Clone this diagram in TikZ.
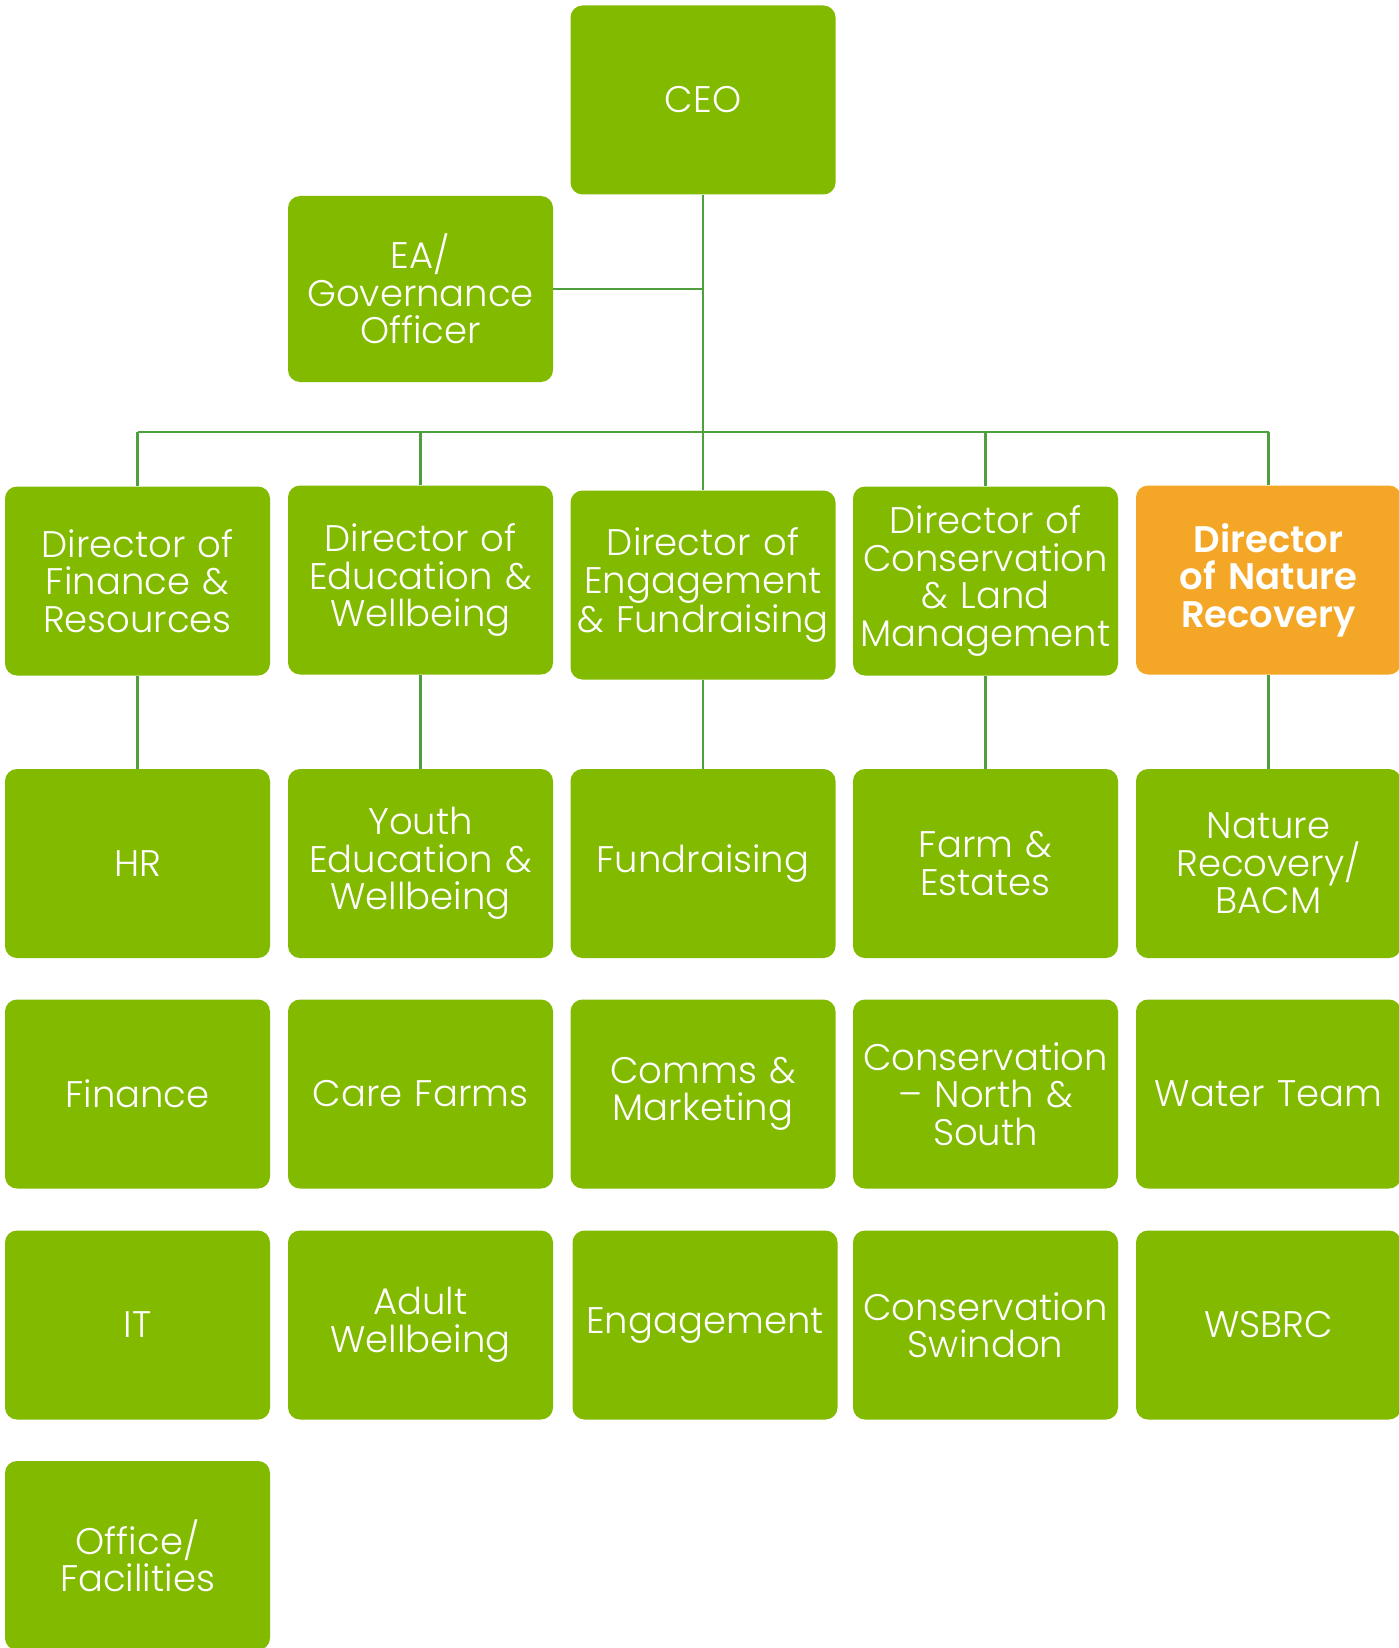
\documentclass[tikz,border=0pt]{standalone}
\usepackage{fontspec}
\setmainfont{Poppins}[UprightFont=* Light, BoldFont=* SemiBold]
\definecolor{leaf}{RGB}{130,186,0}
\definecolor{amber}{RGB}{244,167,39}
\definecolor{stem}{RGB}{78,159,61}
\tikzset{
    team node/.style={rectangle,rounded corners=12pt,fill=leaf,text=white,
        minimum width=265pt,minimum height=189pt,text width=260pt,align=center,
        inner sep=0pt,font=\fontsize{37}{37.5}\selectfont},
    lead node/.style={team node,fill=amber,font=\fontsize{37}{37.5}\selectfont\bfseries},
    link/.style={draw=stem,line width=2.5pt}
    }
\begin{document}
\begin{tikzpicture}[x=1pt,y=-1pt]
    \useasboundingbox[fill=white] (0,0) rectangle (1399,1648);
    % top
    \node(ceo)[team node] at (703,100){CEO};
    \node(ea)[team node, minimum height=186pt] at (420.5,289){EA/\\Governance\\Officer};
    % directors
    \node(dfin)[team node] at (137.5,581){Director of\\Finance \&\\Resources};
    \node(dedu)[team node] at (420.5,580){Director of\\Education \&\\Wellbeing};
    \node(deng)[team node] at (703,585){Director of\\Engagement\\\& Fundraising};
    \node(dcon)[team node] at (985.5,581){Director of\\Conservation\\\& Land\\Management};
    \node(dnat)[lead node] at (1268.5,580){Director\\of Nature\\Recovery};
    % teams
    \node(hr)[team node] at (137.5,863.5){HR};
    \node(youth)[team node] at (420.5,863.5){Youth\\Education \&\\Wellbeing};
    \node(fund)[team node] at (703,863.5){Fundraising};
    \node(farm)[team node] at (985.5,863.5){Farm \&\\Estates};
    \node(nrec)[team node] at (1268.5,863.5){Nature\\Recovery/\\BACM};
    \node(fin)[team node] at (137.5,1094){Finance};
    \node(care)[team node] at (420.5,1094){Care Farms};
    \node(comms)[team node] at (703,1094){Comms \&\\Marketing};
    \node(cns)[team node] at (985.5,1094){Conservation\\-- North \&\\South};
    \node(water)[team node] at (1268.5,1094){Water Team};
    \node(it)[team node] at (137.5,1325){IT};
    \node(adult)[team node] at (420.5,1325){Adult\\Wellbeing};
    \node(engm)[team node] at (705,1325){Engagement};
    \node(csw)[team node] at (985.5,1325){Conservation\\Swindon};
    \node(wsbrc)[team node] at (1268.5,1325){WSBRC};
    \node(office)[team node] at (137.5,1555.5){Office/\\Facilities};
    % lines
    \coordinate(bus) at (ceo.south |- 0,432);
    \coordinate(eaj) at (ceo.south |- ea.east);
    \draw[link] (ceo.south) -- (bus);
    \draw[link] (ea.east) -- (eaj);
    \draw[link] (dfin.north |- bus) -- (dnat.north |- bus);
    \foreach \d/\t in {dfin/hr,dedu/youth,deng/fund,dcon/farm,dnat/nrec}{
        \draw[link] (\d.north |- bus) -- (\d.north);
        \draw[link] (\d.south) -- (\t.north);
    }
\end{tikzpicture}
\end{document}
